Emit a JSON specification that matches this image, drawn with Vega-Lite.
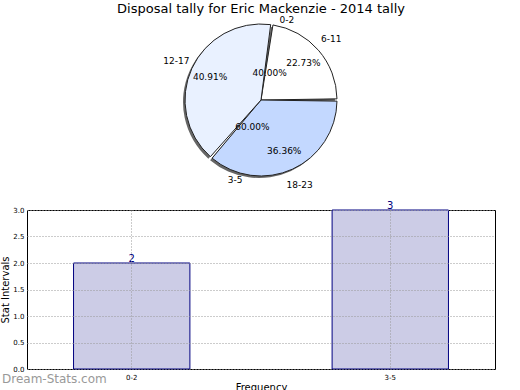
{
  "$schema": "https://vega.github.io/schema/vega-lite/v6.json",
  "padding": {"left": 0, "top": 3, "right": 0, "bottom": 0},
  "background": "white",
  "config": {"view": {"stroke": null}, "font": "DejaVu Sans"},
  "bounds": "flush",
  "spacing": 33,
  "datasets": {
    "outer": [
      {"range": "6-11", "share": 0.2273},
      {"range": "18-23", "share": 0.3636},
      {"range": "12-17", "share": 0.4091}
    ],
    "inner": [
      {"range": "0-2", "share": 0.4},
      {"range": "3-5", "share": 0.6}
    ],
    "bars": [
      {"range": "0-2", "count": 2},
      {"range": "3-5", "count": 3}
    ]
  },
  "vconcat": [
    {
      "width": 468,
      "height": 154,
      "title": {"text": "Disposal tally for Eric Mackenzie - 2014 tally", "fontSize": 13, "fontWeight": "normal", "font": "DejaVu Sans", "offset": 0, "color": "#000"},
      "resolve": {"scale": {"theta": "independent", "color": "independent"}},
      "layer": [
        {
          "data": {"name": "outer"},
          "mark": {"type": "arc", "outerRadius": 76, "padAngle": 0.03, "color": "#666", "xOffset": -2, "yOffset": 2},
          "encoding": {
            "theta": {"field": "share", "type": "quantitative", "stack": true, "scale": {"range": [0.1428, 6.426]}},
            "order": {"field": "range", "sort": "descending"}
          }
        },
        {
          "data": {"name": "outer"},
          "mark": {"type": "arc", "outerRadius": 76, "padAngle": 0.03, "stroke": "#222", "strokeWidth": 1},
          "encoding": {
            "theta": {"field": "share", "type": "quantitative", "stack": true, "scale": {"range": [0.1428, 6.426]}},
            "order": {"field": "range", "sort": "descending"},
            "color": {"field": "range", "type": "nominal", "legend": null, "scale": {"domain": ["6-11", "18-23", "12-17"], "range": ["#ffffff", "#c3d8ff", "#e9f1ff"]}}
          }
        },
        {
          "data": {"name": "outer"},
          "mark": {"type": "text", "radius": 56, "fontSize": 9, "color": "#000"},
          "encoding": {
            "theta": {"field": "share", "type": "quantitative", "stack": true, "scale": {"range": [0.1428, 6.426]}},
            "order": {"field": "range", "sort": "descending"},
            "text": {"field": "share", "type": "quantitative", "format": ".2%"}
          }
        },
        {
          "data": {"name": "outer"},
          "mark": {"type": "text", "radius": 93, "fontSize": 9, "color": "#000"},
          "encoding": {
            "theta": {"field": "share", "type": "quantitative", "stack": true, "scale": {"range": [0.1428, 6.426]}},
            "order": {"field": "range", "sort": "descending"},
            "text": {"field": "range", "type": "nominal"}
          }
        },
        {
          "data": {"name": "inner"},
          "mark": {"type": "text", "radius": 28, "fontSize": 9, "color": "#000"},
          "encoding": {
            "theta": {"field": "share", "type": "quantitative", "stack": true, "scale": {"range": [5.3407, 11.6239]}},
            "order": {"field": "range", "sort": "ascending"},
            "text": {"field": "share", "type": "quantitative", "format": ".2%"}
          }
        },
        {
          "data": {"name": "inner"},
          "mark": {"type": "text", "radius": 84, "fontSize": 9, "color": "#000"},
          "encoding": {
            "theta": {"field": "share", "type": "quantitative", "stack": true, "scale": {"range": [5.3407, 11.6239]}},
            "order": {"field": "range", "sort": "ascending"},
            "text": {"field": "range", "type": "nominal"}
          }
        }
      ]
    },
    {
      "width": 468,
      "height": 159,
      "data": {"name": "bars"},
      "view": {"stroke": "#000", "strokeWidth": 1},
      "title": {"text": "Dream-Stats.com", "orient": "bottom", "anchor": "start", "frame": "group", "dx": -25, "dy": -18, "offset": 0, "color": "#999", "fontSize": 12, "fontWeight": "normal", "font": "DejaVu Sans"},
      "encoding": {
        "x": {
          "field": "range", "type": "nominal", "sort": null,
          "scale": {"paddingInner": 0.55, "paddingOuter": 0.18},
          "axis": {"title": "Frequency", "labelAngle": 0, "labelFontSize": 7, "labelColor": "#000", "titleFontSize": 10, "titleFontWeight": "normal", "titleColor": "#000", "titlePadding": 2, "ticks": false, "labelPadding": 4, "domain": false, "grid": true, "gridDash": [1, 2], "gridColor": "#999", "zindex": 1}
        },
        "y": {
          "field": "count", "type": "quantitative",
          "scale": {"domain": [0, 3], "nice": false},
          "axis": {"title": "Stat Intervals", "values": [0, 0.5, 1, 1.5, 2, 2.5, 3], "format": ".1f", "labelOverlap": false, "labelFontSize": 7, "labelColor": "#000", "titleFontSize": 10, "titleFontWeight": "normal", "titleColor": "#000", "titlePadding": 2, "ticks": false, "labelPadding": 3, "domain": false, "grid": true, "gridDash": [1, 2], "gridColor": "#999", "zindex": 1}
        }
      },
      "layer": [
        {
          "mark": {"type": "bar", "fill": "#cccce6", "stroke": "#000080", "strokeWidth": 1}
        },
        {
          "mark": {"type": "text", "color": "#000080", "baseline": "bottom", "dy": 1, "fontSize": 10},
          "encoding": {
            "text": {"field": "count", "type": "quantitative"}
          }
        }
      ]
    }
  ]
}
